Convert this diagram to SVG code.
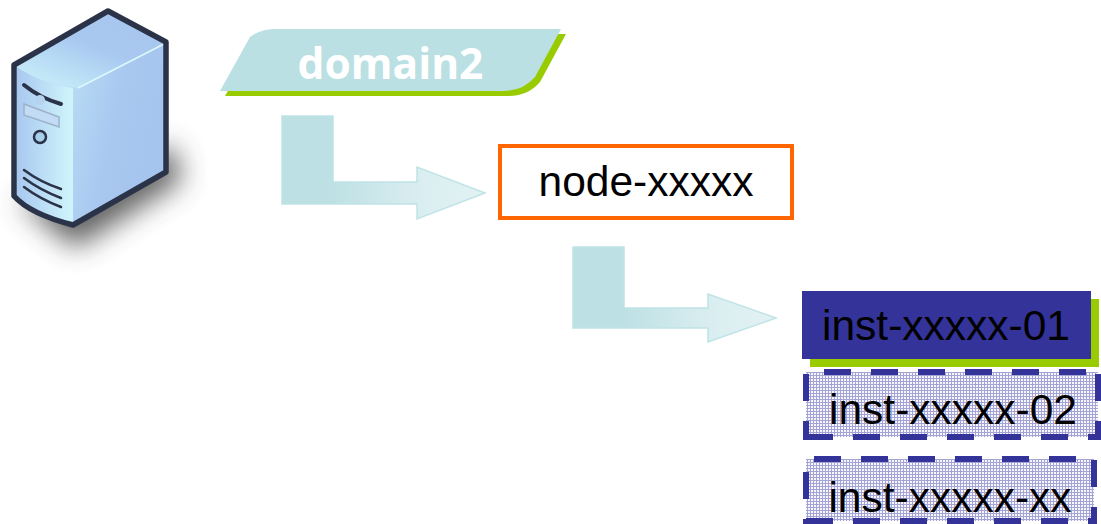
<svg xmlns="http://www.w3.org/2000/svg" width="1101" height="524" viewBox="0 0 1101 524">
<style>
text{font-family:"Liberation Sans",Arial,sans-serif;fill:#000;font-size:42.500px}
.d{stroke:#333399;stroke-width:6;fill:none;stroke-dasharray:27 20}
.a{stroke:#bfe3e6;stroke-width:1.500}
</style>
<defs>
<pattern id="h" width="3" height="3" patternUnits="userSpaceOnUse"><rect width="3" height="3" fill="#f6f6fc"/><path d="M0 .5H3M.5 0V3" stroke="#a3a3d6" stroke-width="1"/></pattern>
<linearGradient id="g1" gradientUnits="userSpaceOnUse" x1="330" y1="0" x2="485" y2="0"><stop offset="0" stop-color="#bde0e4"/><stop offset=".55" stop-color="#d9edf0"/><stop offset="1" stop-color="#e3f2f4"/></linearGradient>
<linearGradient id="g2" gradientUnits="userSpaceOnUse" x1="621" y1="0" x2="776" y2="0"><stop offset="0" stop-color="#bde0e4"/><stop offset=".55" stop-color="#d9edf0"/><stop offset="1" stop-color="#e3f2f4"/></linearGradient>
<linearGradient id="front" x1="0" y1="0" x2="1" y2="0"><stop offset="0" stop-color="#a9c8f0"/><stop offset="1" stop-color="#d0f6fb"/></linearGradient>
<linearGradient id="side" x1="0" y1="0" x2="1" y2=".3"><stop offset="0" stop-color="#cdf5fa"/><stop offset=".75" stop-color="#a8c8f0"/><stop offset="1" stop-color="#a5c4ee"/></linearGradient>
<linearGradient id="top" x1="0" y1="1" x2=".8" y2="0"><stop offset="0" stop-color="#cdf6fb"/><stop offset=".6" stop-color="#a8c8f0"/><stop offset="1" stop-color="#a8c6ef"/></linearGradient>
<filter id="b" x="-50%" y="-80%" width="200%" height="260%"><feGaussianBlur stdDeviation="14"/></filter>
</defs>
<rect width="1101" height="524" fill="#fff"/>
<g id="server">
<path d="M18 200L75 248L182 180L172 145L72 195Z" fill="#444" filter="url(#b)" opacity=".85"/>
<path d="M14 65L108 11L166 42V172L73 225Q30 214 14 196Z" fill="url(#side)"/>
<path d="M14 65L108 11L166 42L78 88Q40 84 14 65Z" fill="url(#top)"/>
<path d="M17 67Q40 83 73 88V222Q30 212 17 195Z" fill="url(#front)"/>
<path d="M78 88L164 44" stroke="#dff8fb" stroke-width="1.500" fill="none"/>
<path d="M14 65L108 11L166 42V172L73 225Q30 214 14 196Z" fill="none" stroke="#2b3348" stroke-width="5.500" stroke-linejoin="round"/>
<path d="M24 85Q40 98 61 104" fill="none" stroke="#2b3348" stroke-width="4" stroke-linecap="round"/>
<circle cx="40" cy="100" r="5" fill="#b5d3ee"/>
<path d="M24 104L59 117V127L24 115Z" fill="#c2dcf5" stroke="#9db1c9" stroke-width="1.500"/>
<circle cx="40" cy="137" r="6" fill="#a8d0ea" stroke="#2b3348" stroke-width="2.500"/>
<path d="M24 170Q40 182 61 189M24 178Q40 190 61 198M24 187Q40 199 61 207" fill="none" stroke="#2b3348" stroke-width="2.500" stroke-linecap="round"/>
</g>
<g id="domain2">
<path d="M225 96L255 42Q265 34 282 34H566L540 82Q528 96 508 96Z" fill="#99cc00"/>
<path d="M220 91L250 37Q260 29 277 29H561L535 77Q523 91 503 91Z" fill="#bbe0e3"/>
<text x="390.500" y="79" text-anchor="middle" style="font-weight:700;font-size:42.500px;font-family:'Open Sans','DejaVu Sans',sans-serif;fill:#fff">domain2</text>
</g>
<g id="connectors">
<path class="a" fill="url(#g1)" d="M282 116H333V182H417V167L485 193L417 219V204H282Z"/>
<path class="a" fill="url(#g2)" d="M573 247H624V308H708V294L776 318L708 342V328H573Z"/>
</g>
<g id="node-xxxxx">
<rect x="500" y="146" width="292" height="72" fill="#fff" stroke="#ff6600" stroke-width="4"/>
<text x="646" y="196" text-anchor="middle">node-xxxxx</text>
</g>
<g id="inst-01">
<rect x="810" y="299" width="289" height="68" fill="#99cc00"/>
<rect x="802" y="291" width="289" height="68" fill="#333399"/>
<text x="946" y="340" text-anchor="middle">inst-xxxxx-01</text>
</g>
<g id="inst-02">
<rect x="806" y="372" width="292" height="65" fill="url(#h)"/>
<path class="d" d="M824 372H1098"/>
<path class="d" d="M806 437H1101"/>
<path class="d" d="M806 374V440"/>
<path class="d" d="M1098 374V440"/>
<text x="953" y="424" text-anchor="middle">inst-xxxxx-02</text>
</g>
<g id="inst-xx">
<rect x="806" y="459" width="288" height="62" fill="url(#h)"/>
<path class="d" d="M814 459H1094"/>
<path class="d" d="M806 521H1094"/>
<path class="d" d="M806 472V524"/>
<path class="d" d="M1094 460V524"/>
<text x="950" y="512" text-anchor="middle">inst-xxxxx-xx</text>
</g>
</svg>
